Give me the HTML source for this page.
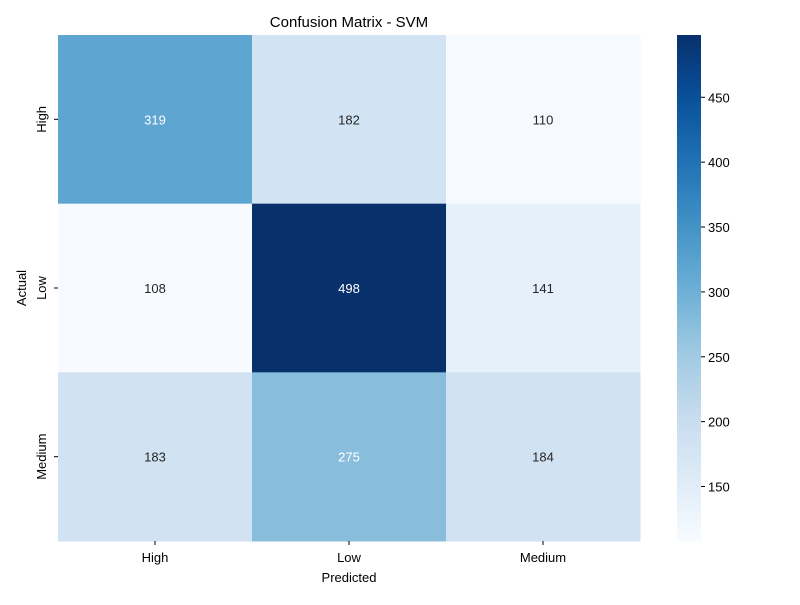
<!DOCTYPE html>
<html><head><meta charset="utf-8"><style>
body{margin:0;background:#fff;}
svg text{font-family:"Liberation Sans","DejaVu Sans",sans-serif;}
</style></head><body>
<svg id="chart" width="800" height="600">
<text x="349" y="27" font-size="15" text-anchor="middle">Confusion Matrix - SVM</text>
<g id="cells"></g>
<g id="xaxis"></g>
<g id="yaxis"></g>
<text x="349" y="582" font-size="13" text-anchor="middle">Predicted</text>
<text transform="translate(26,288) rotate(-90)" font-size="13" text-anchor="middle">Actual</text>
<defs><linearGradient id="cbg" x1="0" y1="1" x2="0" y2="0"></linearGradient></defs>
<rect x="677" y="35" width="24" height="506" fill="url(#cbg)"/>
<g id="cbticks"></g>
</svg>
<script>
const xCategories=["High","Low","Medium"];
const yCategories=["High","Low","Medium"];
const matrixRow0=[319,182,110];
const matrixRow1=[108,498,141];
const matrixRow2=[183,275,184];
const colorbarTicks=[150,200,250,300,350,400,450];
const rows=[matrixRow0,matrixRow1,matrixRow2];
const NS="http://www.w3.org/2000/svg";
const all=rows.flat();const vmin=Math.min(...all),vmax=Math.max(...all);
const L=58,R=640,T=35,B=541;
const cw=(R-L)/xCategories.length,ch=(B-T)/yCategories.length;
const stops=["#f7fbff","#deebf7","#c6dbef","#9ecae1","#6baed6","#4292c6","#2171b5","#08519c","#08306b"].map(h=>[1,3,5].map(i=>parseInt(h.substr(i,2),16)));
function cmap(v){let t=(v-vmin)/(vmax-vmin);t=Math.max(0,Math.min(1,t))*(stops.length-1);const i=Math.min(Math.floor(t),stops.length-2),f=t-i;const c=stops[i].map((a,k)=>a+(stops[i+1][k]-a)*f);return c;}
function rgb(c){return `rgb(${c.map(Math.round).join(",")})`;}
function lin(x){x/=255;return x<=0.03928?x/12.92:Math.pow((x+0.055)/1.055,2.4);}
function mk(tag,attrs,parent){const e=document.createElementNS(NS,tag);for(const k in attrs)e.setAttribute(k,attrs[k]);parent.appendChild(e);return e;}
const cells=document.getElementById("cells");
rows.forEach((row,r)=>row.forEach((v,c)=>{
 const col=cmap(v);
 const rect=mk("rect",{x:L+c*cw,y:T+r*ch,width:cw+0.5,height:ch+0.5,fill:rgb(col)},cells);
 
 
 const lum=0.2126*lin(col[0])+0.7152*lin(col[1])+0.0722*lin(col[2]);
 const t=mk("text",{x:L+(c+0.5)*cw,y:T+(r+0.5)*ch+5,"font-size":13,"text-anchor":"middle",fill:lum>0.5?"#262626":"#fff"},cells);
 t.textContent=v;
 
 
}));
const xa=document.getElementById("xaxis");
xCategories.forEach((n,i)=>{const x=L+(i+0.5)*cw;
 mk("line",{x1:x,x2:x,y1:B,y2:B+4,stroke:"#000"},xa);
 const t=mk("text",{x:x,y:B+21,"font-size":13,"text-anchor":"middle"},xa);t.textContent=n;
 
 });
const ya=document.getElementById("yaxis");
yCategories.forEach((n,i)=>{const y=T+(i+0.5)*ch;
 mk("line",{x1:L-4,x2:L,y1:y,y2:y,stroke:"#000"},ya);
 const t=mk("text",{transform:`translate(${L-12},${y}) rotate(-90)`,"font-size":13,"text-anchor":"middle"},ya);t.textContent=n;
 
 });
const g=document.getElementById("cbg");
for(let i=0;i<=20;i++){const v=vmin+(vmax-vmin)*i/20;mk("stop",{offset:i/20,"stop-color":rgb(cmap(v))},g);}
const cb=document.getElementById("cbticks");
colorbarTicks.forEach(v=>{const y=B-(v-vmin)/(vmax-vmin)*(B-T);
 mk("line",{x1:701,x2:705,y1:y,y2:y,stroke:"#000"},cb);
 const t=mk("text",{x:708,y:y+5,"font-size":13},cb);t.textContent=v;
 
 });
</script>
</body></html>
